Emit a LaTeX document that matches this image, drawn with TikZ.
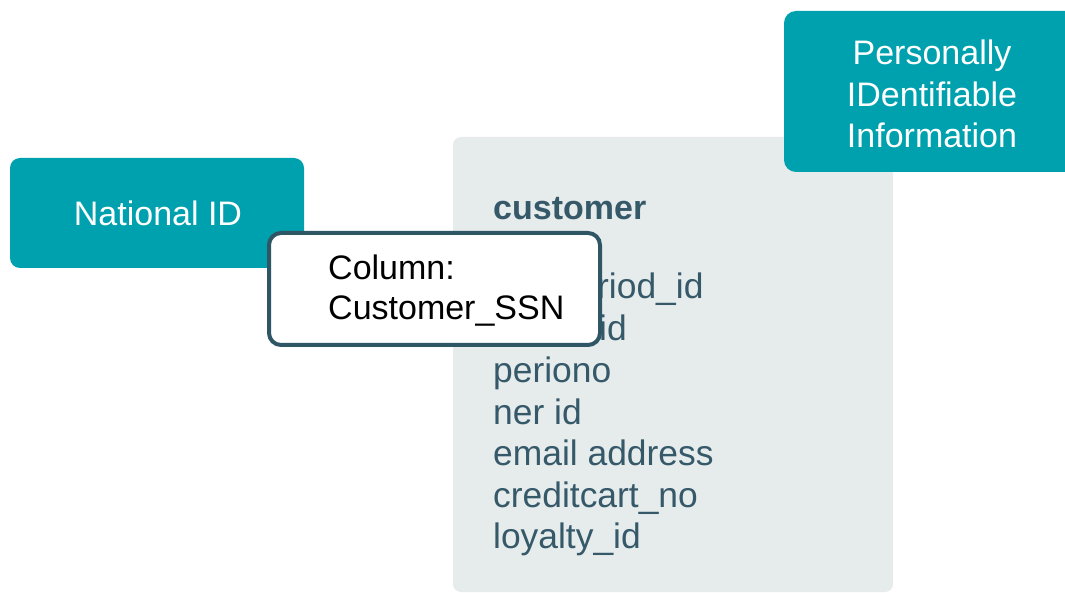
\documentclass[tikz,border=0pt]{standalone}
\usepackage{fontspec}
\setmainfont{Liberation Sans}
\definecolor{piiteal}{HTML}{00A1AE}
\definecolor{tablegray}{HTML}{E6EBEB}
\definecolor{slatetext}{HTML}{36596A}
\definecolor{slateborder}{HTML}{2F5664}
\tikzset{
  bigfont/.style={font=\fontsize{34}{41}\selectfont},
  listfont/.style={font=\fontsize{35.4}{41}\selectfont},
  whitetext/.style={bigfont, text=white, inner sep=0pt, anchor=base},
  listtext/.style={listfont, text=slatetext, inner sep=0pt, anchor=base west},
  coltext/.style={bigfont, text=black, inner sep=0pt, anchor=base west},
  tealbox/.style={fill=piiteal},
}
\begin{document}
\begin{tikzpicture}[x=1pt,y=-1pt]
\useasboundingbox (0,0) rectangle (1065,593);
\clip (0,0) rectangle (1065,593);
% table background
\fill[tablegray, rounded corners=8pt] (453,137) rectangle (893,592);
% PII box
\fill[tealbox, rounded corners=12pt] (784,11) rectangle (1090,172);
\node[whitetext] (pii1) at (932,65) {Personally};
\node[whitetext] (pii2) at (932,107) {IDentifiable};
\node[whitetext] (pii3) at (932,148) {Information};
% table text
\node[listtext, font=\fontsize{34}{41}\selectfont\bfseries] (tname) at (493,220) {customer};
\node[listtext] (r1) at (597,299) {riod\_id};
\node[listtext] (r2) at (599,341) {id};
\node[listtext] (r3) at (493,382) {periono};
\node[listtext] (r4) at (493,424) {ner id};
\node[listtext] (r5) at (493,465) {email address};
\node[listtext] (r6) at (493,507) {creditcart\_no};
\node[listtext] (r7) at (493,548) {loyalty\_id};
% National ID box
\fill[tealbox, rounded corners=10pt] (10,158) rectangle (304,268);
\node[whitetext] (nid) at (158,226) {National ID};
% Column box
\draw[slateborder, line width=4pt, fill=white, rounded corners=12pt] (269,233) rectangle (600,345);
\node[coltext] (c1) at (328,280) {Column:};
\node[coltext] (c2) at (328,320) {Customer\_SSN};
\end{tikzpicture}
\end{document}
